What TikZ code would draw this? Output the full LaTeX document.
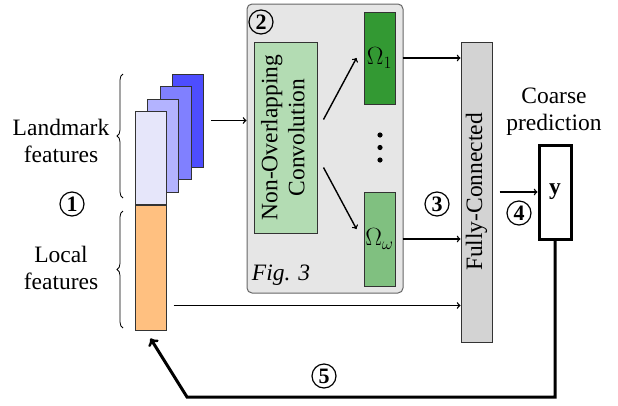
\documentclass[tikz,border=0pt]{standalone}
\usepackage{fontspec}
\setmainfont{Liberation Serif}
\usepackage{graphicx}
\usetikzlibrary{arrows, positioning, decorations.pathreplacing}

\definecolor{featA}{HTML}{E6E6FA}
\definecolor{featB}{HTML}{B3B3FF}
\definecolor{featC}{HTML}{8080FF}
\definecolor{featD}{HTML}{4D4DFF}
\definecolor{localc}{HTML}{FFC080}
\definecolor{convc}{HTML}{B3DCB3}
\definecolor{omonec}{HTML}{339933}
\definecolor{omwc}{HTML}{80C080}
\definecolor{fcc}{HTML}{D3D3D3}
\definecolor{grpc}{HTML}{E6E6E6}

\tikzset{
  block/.style={draw=black!80, line width=1pt, inner sep=0pt},
  feat/.style={block, minimum width=31pt, minimum height=93pt},
  num/.style={draw, circle, line width=1.2pt, inner sep=0pt, minimum size=24pt, font=\fontsize{22}{26}\selectfont\bfseries},
  arr/.style={->, line width=1.4pt},
  fb/.style={->, line width=3pt},
  brc/.style={decorate, decoration={brace, amplitude=6pt}, line width=0.8pt}
}

\begin{document}
\begin{tikzpicture}[x=1pt, y=-1pt, font=\fontsize{23.5}{27}\selectfont]
\useasboundingbox (0,0) rectangle (618,405);

% Group of step 2
\node[draw=black!60, fill=grpc, rounded corners=5pt, line width=1pt, minimum width=156pt, minimum height=289pt] (grp) at (325,148.5) {};
\node[num] (n2) at (261,22) {2};
\node[font=\fontsize{23.5}{27}\selectfont\itshape] (fig) at (281,275) {Fig. 3};

% Feature maps
\node[feat, fill=featD] (l4) at (188,120.5) {};
\node[feat, fill=featC] (l3) at (175.5,132.5) {};
\node[feat, fill=featB] (l2) at (163,145.5) {};
\node[feat, fill=featA] (l1) at (150.5,157.5) {};
\node[block, fill=localc, minimum width=31pt, minimum height=125pt, below=0pt of l1] (loc) {};

% Braces and labels
\draw[brc] (123,198) -- (123,74);
\draw[brc] (123,328) -- (123,211);
\node[align=center] (lmk) at (61,141) {Landmark\\features};
\node[align=center] (lcl) at (61,268) {Local\\features};
\node[num] (n1) at (72,204) {1};

% Convolution and outputs
\node[block, fill=convc, minimum width=63pt, minimum height=191pt] (conv) at (285.5,137.5) {\rotatebox{90}{\begin{tabular}{@{}c@{}}Non-Overlapping\\Convolution\end{tabular}}};
\node[block, fill=omonec, minimum width=31pt, minimum height=92pt] (om1) at (379.5,58) {$\Omega_1$};
\node[block, fill=omwc, minimum width=31pt, minimum height=94pt] (omw) at (379.5,239) {$\Omega_\omega$};
\foreach \y in {135,147.5,160} \fill (380,\y) circle (2.6pt);

% Fully connected and prediction
\node[block, fill=fcc, minimum width=31pt, minimum height=300pt] (fc) at (476.5,192) {\rotatebox{90}{Fully-Connected}};
\node[draw, line width=3pt, fill=white, minimum width=32pt, minimum height=94pt] (yb) at (555,192) {\textbf{y}};
\node[align=center] (coarse) at (554,112) {Coarse\\prediction};
\node[num] (n3) at (437,204) {3};
\node[num] (n4) at (519,213) {4};
\node[num] (n5) at (324,376) {5};

% Connections
\draw[arr, shorten <=7pt] (l4.east) -- (l4.east -| grp.west);
\draw[arr] ([shift={(6,-18)}]conv.east) -- ([xshift=-7pt]om1.west);
\draw[arr] ([shift={(6,30)}]conv.east) -- ([shift={(-7,-10)}]omw.west);
\draw[arr, shorten <=7pt] (om1.east) -- (om1.east -| fc.west);
\draw[arr, shorten <=7pt] (omw.east) -- (omw.east -| fc.west);
\draw[arr, shorten <=7pt] (fc.east) -- (yb.west);
\coordinate (locout) at ([shift={(7,38)}]loc.east);
\draw[arr] (locout) -- (locout -| fc.west);
\coordinate (fbturn) at (187,397);
\draw[fb] (yb.south) |- (fbturn) -- ([yshift=-8pt]loc.south);
\end{tikzpicture}
\end{document}
